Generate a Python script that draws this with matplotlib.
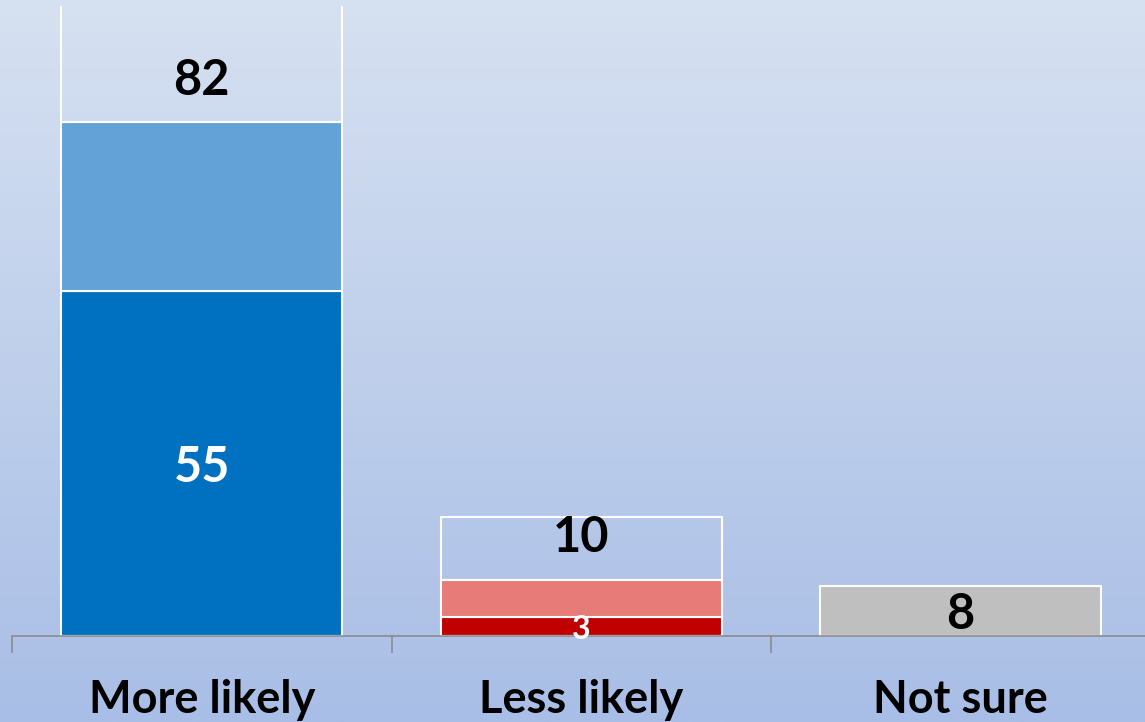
import numpy as np
import matplotlib.pyplot as plt

categories = ["More likely", "Less likely", "Not sure"]
strong = [55, 3, 0]
somewhat = [27, 6, 0]
unsure = [0, 0, 8]
totals = [82, 10, 8]

strong_colors = ["#0070c0", "#c00000", "#bfbfbf"]
somewhat_colors = ["#62a2d6", "#e77b77", "#bfbfbf"]

W, H, DPI = 1145, 722, 100
fig = plt.figure(figsize=(W / DPI, H / DPI), dpi=DPI)

# gradient background
bg = fig.add_axes([0, 0, 1, 1], zorder=0)
grad = np.linspace(0, 1, 256).reshape(-1, 1)
top = np.array([0xd6, 0xe1, 0xf1]) / 255
bot = np.array([0xa9, 0xbe, 0xe6]) / 255
img = top[None, None, :] * (1 - grad[:, :, None]) + bot[None, None, :] * grad[:, :, None]
bg.imshow(img, aspect="auto", extent=[0, 1, 0, 1])
bg.axis("off")

x0, base_y, top_y = 12, 636, 6
step = 379.5
ax = fig.add_axes([x0 / W, (H - base_y) / H, 3 * step / W, (base_y - top_y) / H], zorder=1)
ax.patch.set_alpha(0)

x = np.arange(len(categories))
bw = 0.74
ymax = 100.5
ax.set_xlim(-0.5, 2.5)
ax.set_ylim(0, ymax)

ax.bar(x, strong, bw, color=strong_colors, edgecolor="white", linewidth=1.5)
ax.bar(x, somewhat, bw, bottom=strong, color=somewhat_colors, edgecolor="white", linewidth=1.5)
ax.bar(x, unsure, bw, color="#bfbfbf", edgecolor="white", linewidth=1.5)

stack = [s + m for s, m in zip(strong, somewhat)]
font = ["Lato", "DejaVu Sans"]
for i in range(2):
    ax.bar(x[i], totals[i], bw, bottom=stack[i], facecolor="none", edgecolor="white", linewidth=1.5)
    ax.annotate(str(totals[i]), xy=(x[i], stack[i]), xytext=(0, 30), textcoords="offset points",
                ha="center", va="center", fontsize=35, fontweight="bold", family=font, color="black")

ax.text(x[0], strong[0] / 2 - 0.6, str(strong[0]), ha="center", va="center", fontsize=35,
        fontweight="bold", family=font, color="white")
ax.text(x[1], strong[1] / 2 - 0.4, str(strong[1]), ha="center", va="center", fontsize=23,
        fontweight="bold", family=font, color="white", clip_on=False)
ax.text(x[2], unsure[2] / 2 - 0.6, str(unsure[2]), ha="center", va="center", fontsize=35,
        fontweight="bold", family=font, color="black")

for s in ["top", "right", "left"]:
    ax.spines[s].set_visible(False)
ax.spines["bottom"].set_color("#8c8c8c")
ax.spines["bottom"].set_linewidth(1.2)
ax.set_yticks([])
ax.set_xticks([-0.5, 0.5, 1.5, 2.5])
ax.set_xticklabels([])
ax.tick_params(axis="x", length=12, width=1.2, color="#8c8c8c", direction="out")
for i, c in enumerate(categories):
    ax.text(x[i], -10.2, c, ha="center", va="center", fontsize=32.5, fontweight="bold",
            family=font, color="black", clip_on=False)

fig.savefig("out.png", dpi=DPI)
